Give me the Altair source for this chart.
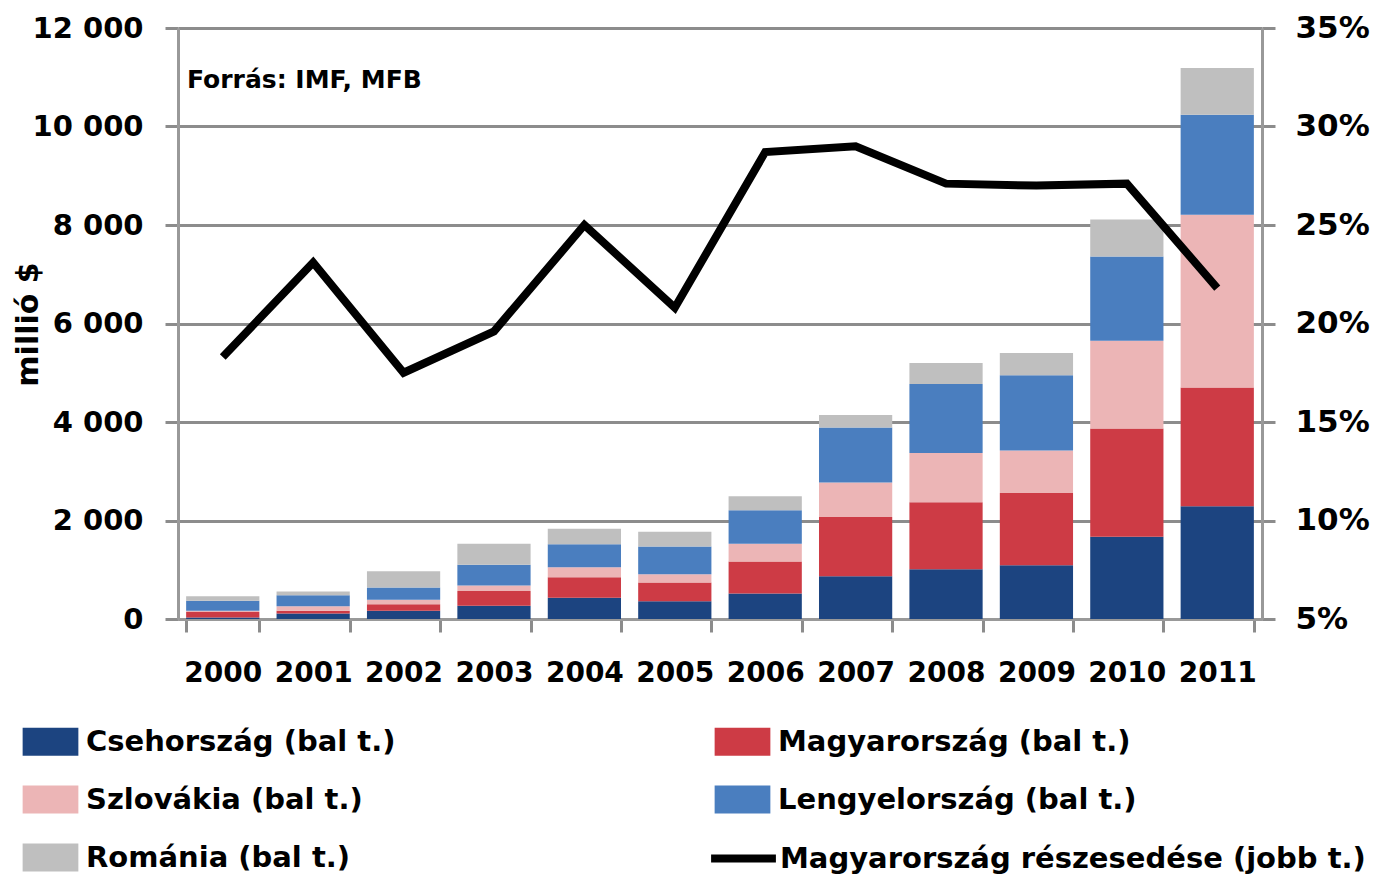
import altair as alt
import pandas as pd

years = ["2000", "2001", "2002", "2003", "2004", "2005", "2006", "2007", "2008", "2009", "2010", "2011"]
cz = [30, 110, 170, 270, 430, 360, 520, 870, 1010, 1090, 1670, 2290]
hu = [110, 60, 130, 300, 420, 380, 650, 1200, 1360, 1470, 2200, 2410]
sk = [30, 90, 90, 110, 200, 170, 360, 700, 1000, 860, 1780, 3510]
pl = [200, 220, 250, 420, 470, 560, 680, 1120, 1400, 1530, 1710, 2030]
ro = [90, 80, 330, 430, 310, 300, 280, 250, 430, 450, 750, 950]
share = [18.3, 23.1, 17.5, 19.6, 25.0, 20.8, 28.7, 29.0, 27.1, 27.0, 27.1, 21.8]

series_names = ["Csehország (bal t.)", "Magyarország (bal t.)", "Szlovákia (bal t.)",
                "Lengyelország (bal t.)", "Románia (bal t.)"]
colors = ["#1c4480", "#cd3b45", "#ecb5b6", "#4a7ebf", "#bfbfbf"]
line_name = "Magyarország részesedése (jobb t.)"
source_text = "Forrás: IMF, MFB"

# legend is filled column by column: put entries so that rows read CZ|HU, SK|PL, RO
legend_order = [0, 2, 4, 1, 3]
legend_names = [series_names[i] for i in legend_order]
legend_colors = [colors[i] for i in legend_order]

rows = []
for si, (name, vals) in enumerate(zip(series_names, [cz, hu, sk, pl, ro])):
    for y, v in zip(years, vals):
        rows.append({"year": y, "country": name, "value": v, "order": si})
bars_df = pd.DataFrame(rows)
line_df = pd.DataFrame({"year": years, "share": share, "series": [line_name] * len(years)})

FONT = "DejaVu Sans"
SQ_PATH = "M-0.86,-0.43H0.86V0.43H-0.86Z"

x_enc = alt.X("year:N", title=None,
              scale=alt.Scale(paddingInner=0.19, paddingOuter=0.09),
              axis=alt.Axis(labelAngle=0, labelFont=FONT, labelFontSize=28, labelFontWeight="bold",
                            labelColor="black", labelPadding=27, tickBand="extent", tickSize=13,
                            tickWidth=3, tickColor="#8c8c8c", domainColor="#999999",
                            domainWidth=3, grid=False))

bars = alt.Chart(bars_df).mark_bar().encode(
    x=x_enc,
    y=alt.Y("value:Q", stack="zero",
            scale=alt.Scale(domain=[0, 12000], nice=False),
            axis=alt.Axis(values=[0, 2000, 4000, 6000, 8000, 10000, 12000],
                          labelExpr="replace(format(datum.value, ','), ',', ' ')",
                          labelFont=FONT, labelFontSize=29, labelFontWeight="bold",
                          labelColor="black", labelPadding=22, tickSize=13, tickWidth=3,
                          tickColor="#8c8c8c", domainColor="#999999", domainWidth=3,
                          grid=True, gridColor="#8c8c8c", gridWidth=3,
                          title="millió $", titleFont=FONT, titleFontSize=30,
                          titleFontWeight="bold", titleColor="black", titleAngle=270,
                          titleX=-150, titleY=296, titleAlign="center", titleBaseline="middle")),
    color=alt.Color("country:N",
                    scale=alt.Scale(domain=legend_names, range=legend_colors),
                    legend=alt.Legend(title=None, orient="none", legendX=-160, legendY=681,
                                      columns=2, columnPadding=314, rowPadding=10,
                                      symbolType=SQ_PATH, symbolSize=4200, symbolStrokeWidth=0,
                                      labelFont=FONT, labelFontSize=29, labelFontWeight="bold",
                                      labelColor="black", labelOffset=3, labelLimit=700)),
    order=alt.Order("order:Q", sort="ascending"),
)

line = alt.Chart(line_df).mark_line(strokeWidth=8).encode(
    x=alt.X("year:N"),
    y=alt.Y("share:Q", scale=alt.Scale(domain=[5, 35], nice=False),
            axis=alt.Axis(orient="right", values=[5, 10, 15, 20, 25, 30, 35],
                          labelExpr="datum.value + '%'", labelFont=FONT, labelFontSize=31,
                          labelFontWeight="bold", labelColor="black", labelPadding=20,
                          tickSize=13, tickWidth=3, tickColor="#8c8c8c",
                          domainColor="#999999", domainWidth=3, grid=False, title=None)),
    stroke=alt.Stroke("series:N", scale=alt.Scale(domain=[line_name], range=["#000000"]),
                      legend=alt.Legend(title=None, orient="none", legendX=529, legendY=794,
                                        symbolType="stroke", symbolSize=4200, symbolStrokeWidth=8,
                                        labelFont=FONT, labelFontSize=29, labelFontWeight="bold",
                                        labelColor="black", labelOffset=0, labelLimit=700)),
)

txt = alt.Chart(pd.DataFrame({"t": [source_text]})).mark_text(
    align="left", baseline="middle", font=FONT, fontSize=25, fontWeight="bold", color="black"
).encode(text="t:N", x=alt.value(9), y=alt.value(52))

chart = alt.layer(bars, line, txt).resolve_scale(y="independent").properties(
    width=1084, height=591,
    autosize=alt.AutoSizeParams(type="none"),
    padding={"left": 170, "top": 20, "right": 110, "bottom": 262},
).configure_view(stroke=None)

chart.save("out.html", embed_options={"renderer": "svg", "actions": False})
